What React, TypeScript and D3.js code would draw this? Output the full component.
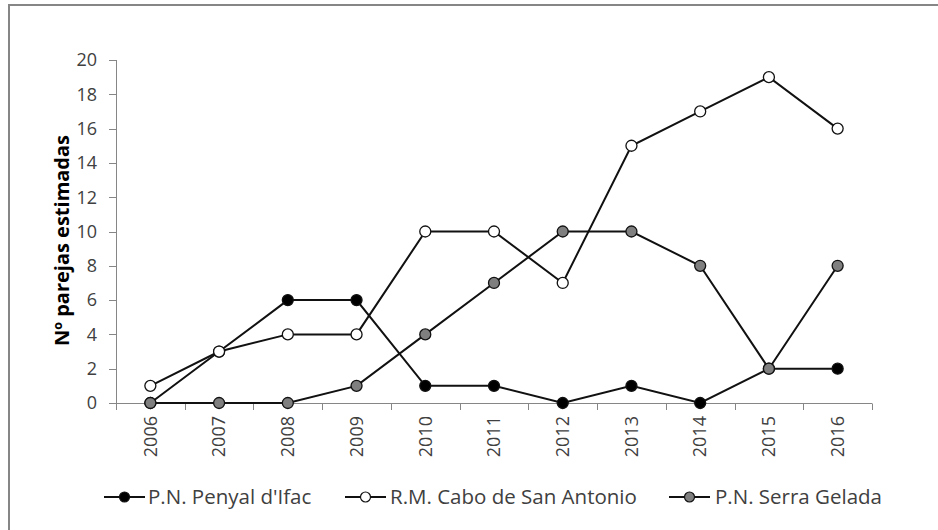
import React from "react";
import * as d3 from "d3";

const years = ["2006", "2007", "2008", "2009", "2010", "2011", "2012", "2013", "2014", "2015", "2016"];
const penyal = [0, 3, 6, 6, 1, 1, 0, 1, 0, 2, 2];
const cabo = [1, 3, 4, 4, 10, 10, 7, 15, 17, 19, 16];
const gelada = [0, 0, 0, 1, 4, 7, 10, 10, 8, 2, 8];
const yTicks = [0, 2, 4, 6, 8, 10, 12, 14, 16, 18, 20];

const seriesList = [
  { name: "P.N. Penyal d'Ifac", values: penyal, fill: "#000000" },
  { name: "R.M. Cabo de San Antonio", values: cabo, fill: "#ffffff" },
  { name: "P.N. Serra Gelada", values: gelada, fill: "#7f7f7f" },
];

const legendPos = [
  { x: 104, tx: 148 },
  { x: 345, tx: 390 },
  { x: 669, tx: 715 },
];

export default function App() {
  const W = 938, H = 530;
  const x = d3.scaleBand<string>().domain(years).range([116, 872]);
  const y = d3.scaleLinear().domain([0, 20]).range([403, 60]);
  const cx = (yr: string) => (x(yr) as number) + x.bandwidth() / 2;
  const line = d3.line<number>().x((_, i) => cx(years[i])).y((v) => y(v));
  const font = "'Open Sans', sans-serif";
  const axisColor = "#868686";
  const edges = years.map((yr) => x(yr) as number).concat([872]);

  return (
    <svg width={W} height={H} style={{ position: "absolute", left: 0, top: 0 }}>
      <rect x={0} y={0} width={W} height={H} fill="#fff" />
      <rect x={9} y={5} width={W + 20} height={H + 20} fill="none" stroke="#868686" strokeWidth={2} />
      {/* y axis */}
      <line x1={116.5} x2={116.5} y1={y(20)} y2={y(0)} stroke={axisColor} strokeWidth={1} />
      {yTicks.map((t) => (
        <g key={t}>
          <line x1={109} x2={116.5} y1={Math.round(y(t)) + 0.5} y2={Math.round(y(t)) + 0.5} stroke={axisColor} />
          <text x={97} y={y(t)} dy="0.35em" textAnchor="end" fontFamily={font} fontSize={18} fill="#404040">
            {t}
          </text>
        </g>
      ))}
      {/* x axis */}
      <line x1={116} x2={872} y1={403.5} y2={403.5} stroke={axisColor} />
      {edges.map((e, i) => (
        <line key={i} x1={Math.round(e) + 0.5} x2={Math.round(e) + 0.5} y1={403.5} y2={410} stroke={axisColor} />
      ))}
      {years.map((yr) => (
        <text
          key={yr}
          transform={`translate(${cx(yr)},416) rotate(-90)`}
          textAnchor="end"
          dy="0.35em"
          fontFamily={font}
          fontSize={18}
          fill="#404040"
        >
          {yr}
        </text>
      ))}
      <text
        transform={`translate(62,240.5) rotate(-90)`}
        textAnchor="middle"
        dy="0.35em"
        fontFamily={font}
        fontSize={20}
        fontWeight="bold"
        fill="#000"
      >
        Nº parejas estimadas
      </text>
      {/* series */}
      {seriesList.map((s) => (
        <g key={s.name}>
          <path d={line(s.values) || ""} fill="none" stroke="#111" strokeWidth={2} />
          {s.values.map((v, i) => (
            <circle key={i} cx={cx(years[i])} cy={y(v)} r={5.5} fill={s.fill} stroke="#111" strokeWidth={1.3} />
          ))}
        </g>
      ))}
      {/* legend */}
      {seriesList.map((s, i) => (
        <g key={s.name}>
          <line x1={legendPos[i].x} x2={legendPos[i].x + 41} y1={497} y2={497} stroke="#111" strokeWidth={2} />
          <circle cx={legendPos[i].x + 20.5} cy={497} r={5} fill={s.fill} stroke="#111" strokeWidth={1.2} />
          <text x={legendPos[i].tx} y={497} dy="0.35em" fontFamily={font} fontSize={20.5} fill="#404040">
            {s.name}
          </text>
        </g>
      ))}
    </svg>
  );
}
